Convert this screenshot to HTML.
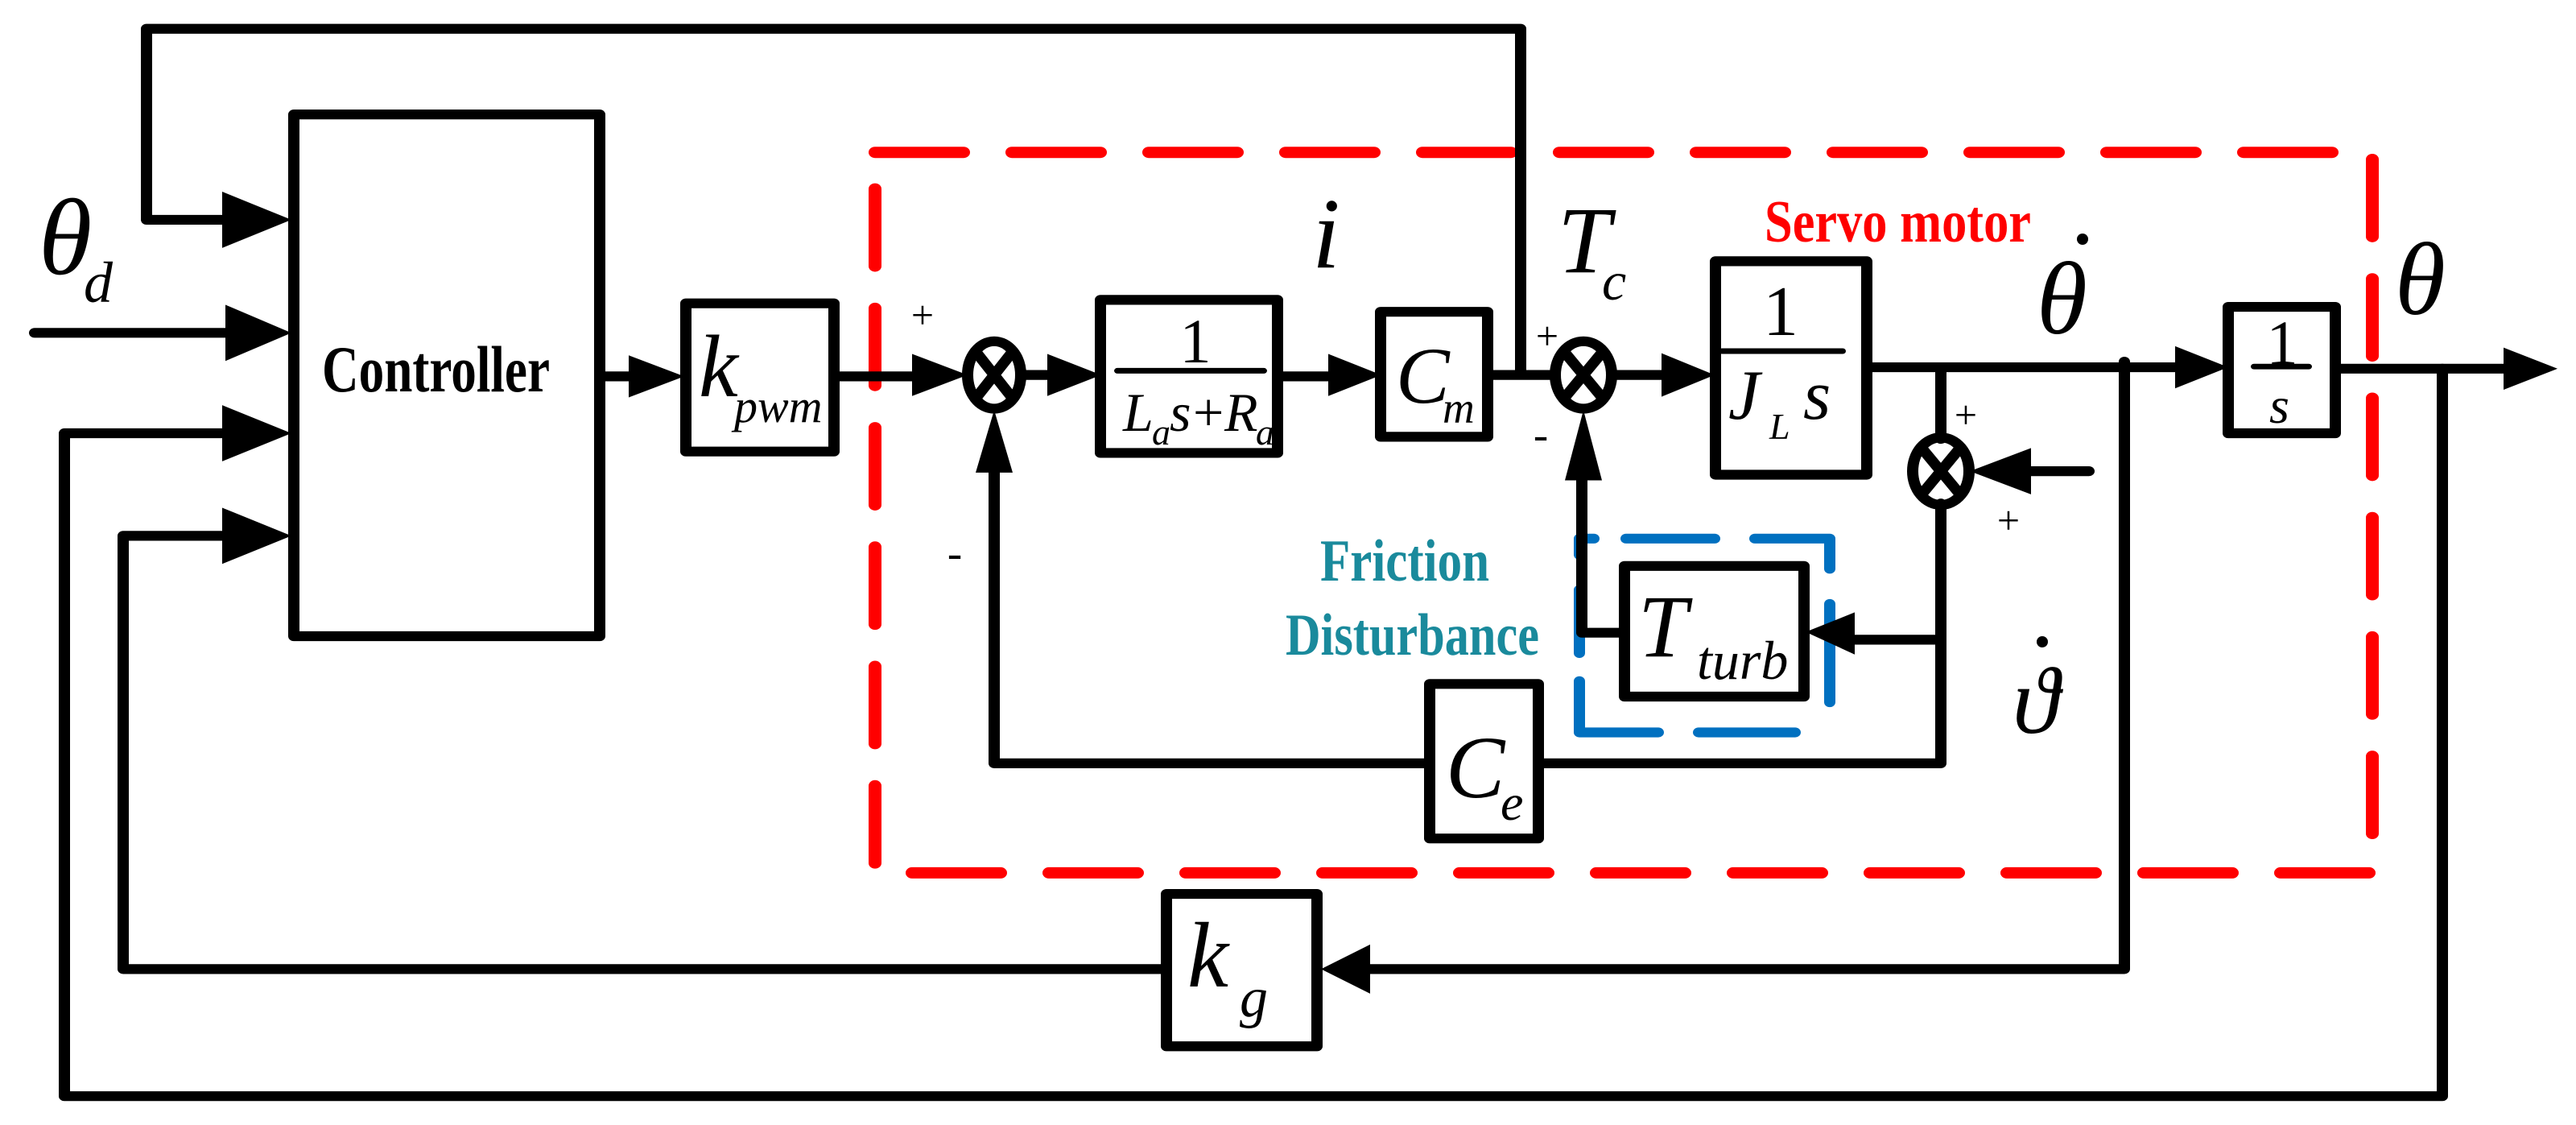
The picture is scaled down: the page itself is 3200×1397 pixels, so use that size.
<!DOCTYPE html>
<html><head><meta charset="utf-8"><style>
html,body{margin:0;padding:0;background:#fff;overflow:hidden}
svg{display:block}
.m{font-family:"Liberation Serif",serif;font-style:italic}
</style></head><body>
<svg width="3200" height="1397" viewBox="0 0 3200 1397" xmlns="http://www.w3.org/2000/svg">
<g transform="scale(1,0.872)">
<g fill="none" stroke="#000" stroke-width="14" stroke-linejoin="round" stroke-linecap="round">
<rect x="1087" y="217" width="1860" height="1026" stroke="#ff0000" stroke-width="16" stroke-dasharray="110 60"/>
<path d="M1962 790 V767 H1980 M2020 767 H2130 M2180 767 H2273 V810 M2273 860 V1000 M1962 840 V930 M1962 970 V1043 H2060 M2110 1043 H2230" stroke="#0070c0" stroke-width="14"/>
<rect x="365" y="163" width="380" height="743"/>
<rect x="852" y="432" width="184" height="211"/>
<rect x="1367" y="427" width="220" height="218"/>
<rect x="1715" y="444" width="133" height="178"/>
<rect x="2131" y="372" width="188" height="304"/>
<rect x="2768" y="437" width="133" height="180"/>
<rect x="2018" y="806" width="223" height="186"/>
<rect x="1776" y="974" width="135" height="220"/>
<rect x="1449" y="1273" width="187" height="217"/>
<ellipse cx="1235" cy="534" rx="33" ry="48"/>
<ellipse cx="1967" cy="534" rx="35" ry="48"/>
<ellipse cx="2411" cy="671" rx="35" ry="48"/>
<path d="M1215 505 L1255 563 M1255 505 L1215 563 M1946 505 L1988 563 M1988 505 L1946 563 M2390 642 L2432 700 M2432 642 L2390 700" stroke-width="14"/>
<path d="M1889 531 V41 H182 V313 H300"/>
<path d="M43 474 H300"/>
<path d="M1449 1380 H153 V763 H300"/>
<path d="M2639 515 V1380 H1700"/>
<path d="M3034 525 V1561 H80 V617 H300"/>
<path d="M745 536 H800"/>
<path d="M1036 536 H1150"/>
<path d="M1268 534 H1310"/>
<path d="M1587 536 H1660"/>
<path d="M1848 534 H1932"/>
<path d="M2002 534 H2070"/>
<path d="M2319 523 H2710"/>
<path d="M2901 525 H3120"/>
<path d="M2411 523 V625"/>
<path d="M2595 671 H2500"/>
<path d="M2411 717 V1087 H1911"/>
<path d="M1776 1087 H1235 V650"/>
<path d="M2411 911 H2290"/>
<path d="M2018 901 H1965 V660"/>
<path d="M1388 528 H1570 M2139 500 H2289 M2800 522 H2868" stroke-width="8"/>
</g>
<g fill="#000">
<polygon points="276,273 362,313 276,353"/>
<polygon points="280,434 362,474 280,514"/>
<polygon points="276,577 362,617 276,657"/>
<polygon points="276,723 362,763 276,803"/>
<polygon points="781,506 850,536 781,566"/>
<polygon points="1133,504 1202,534 1133,564"/>
<polygon points="1301,504 1368,534 1301,564"/>
<polygon points="1650,504 1716,534 1650,564"/>
<polygon points="2064,503 2130,534 2064,565"/>
<polygon points="2702,493 2768,523 2702,553"/>
<polygon points="3110,495 3177,525 3110,555"/>
<polygon points="1235,584 1212,673 1258,673"/>
<polygon points="1967,584 1944,684 1990,684"/>
<polygon points="2447,671 2523,638 2523,704"/>
<polygon points="2243,900 2304,872 2304,932"/>
<polygon points="1641,1380 1702,1345 1702,1415"/>
</g>
</g>
<g class="m" fill="#000">
<text x="48" y="340" font-size="135">θ</text>
<text x="104" y="375" font-size="72">d</text>
<text x="868" y="492" font-size="110">k</text>
<text x="912" y="524" font-size="58">pwm</text>
<text x="1630" y="332" font-size="125">i</text>
<text x="1935" y="338" font-size="118">T</text>
<text x="1990" y="372" font-size="68">c</text>
<text x="1734" y="500" font-size="100">C</text>
<text x="1792" y="525" font-size="55">m</text>
<text x="1796" y="990" font-size="110">C</text>
<text x="1864" y="1018" font-size="64">e</text>
<text x="2035" y="815" font-size="110">T</text>
<text x="2108" y="843" font-size="68">turb</text>
<text x="2147" y="520" font-size="88">J</text>
<text x="2198" y="545" font-size="46">L</text>
<text x="2240" y="520" font-size="88">s</text>
<text x="1395" y="535" font-size="68">L</text>
<text x="1431" y="552" font-size="46">a</text>
<text x="1453" y="535" font-size="68">s</text>
<text x="1482" y="535" font-size="68" font-style="normal">+</text>
<text x="1521" y="535" font-size="68">R</text>
<text x="1560" y="552" font-size="46">a</text>
<text x="2819" y="525" font-size="64">s</text>
<text x="2530" y="414" font-size="128">θ</text>
<text x="2975" y="390" font-size="128">θ</text>
<text x="2500" y="910" font-size="118">ϑ</text>
<text x="1475" y="1225" font-size="115">k</text>
<text x="1540" y="1262" font-size="70">g</text>
</g>
<g font-family="Liberation Serif,serif" fill="#000">
<text x="1485" y="450" font-size="78" text-anchor="middle">1</text>
<text x="2212" y="416" font-size="88" text-anchor="middle">1</text>
<text x="2835" y="452" font-size="78" text-anchor="middle">1</text>
<text x="1146" y="408" font-size="50" text-anchor="middle">+</text>
<text x="1186" y="705" font-size="55" text-anchor="middle">-</text>
<text x="1922" y="434" font-size="50" text-anchor="middle">+</text>
<text x="1914" y="558" font-size="55" text-anchor="middle">-</text>
<text x="2442" y="532" font-size="50" text-anchor="middle">+</text>
<text x="2495" y="663" font-size="50" text-anchor="middle">+</text>
</g>
<circle cx="2587" cy="297" r="7" fill="#000"/>
<circle cx="2537" cy="797" r="7" fill="#000"/>
<g font-family="Liberation Serif,serif" font-weight="bold">
<text x="400" y="486" font-size="82" textLength="283" lengthAdjust="spacingAndGlyphs" fill="#000">Controller</text>
<text x="2192" y="300" font-size="74" textLength="331" lengthAdjust="spacingAndGlyphs" fill="#ff0000">Servo motor</text>
<text x="1640" y="721" font-size="74" textLength="210" lengthAdjust="spacingAndGlyphs" fill="#1a8a9c">Friction</text>
<text x="1597" y="813" font-size="74" textLength="315" lengthAdjust="spacingAndGlyphs" fill="#1a8a9c">Disturbance</text>
</g>
</svg>
</body></html>
